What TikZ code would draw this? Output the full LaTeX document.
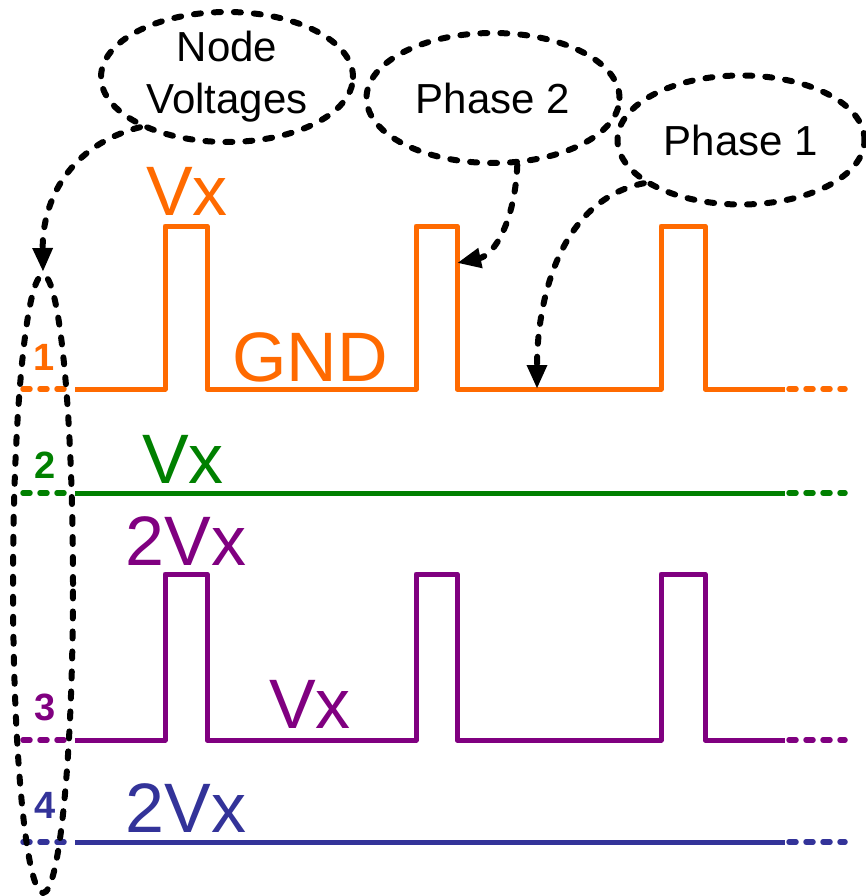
\documentclass[tikz,border=0pt]{standalone}
\usepackage{fontspec}
\setmainfont{Liberation Sans}
\usetikzlibrary{arrows.meta,shapes.geometric}
\definecolor{narancs}{HTML}{FF6A00}
\definecolor{zold}{HTML}{008000}
\definecolor{lila}{HTML}{800080}
\definecolor{kek}{HTML}{333399}
\tikzset{
  jel/.style={line width=5pt,line join=round},
  vege/.style={line width=5.5pt,line cap=round,dash pattern=on 7pt off 10pt},
  buborek/.style={ellipse,draw,line width=6pt,line cap=round,dash pattern=on 7pt off 13pt,
    inner sep=0pt,align=center,font=\fontsize{42}{52}\selectfont},
  nyil/.style={line width=6pt,line cap=round,dash pattern=on 7pt off 13pt,
    -{Triangle[length=24pt,width=19pt]}},
  szint/.style={anchor=base,font=\fontsize{70}{70}\selectfont},
  szam/.style={anchor=base,font=\fontsize{38}{38}\selectfont\bfseries},
}

\begin{document}
\begin{tikzpicture}[x=1pt,y=-1pt]
  \useasboundingbox (0,0) rectangle (865,896);
  % jelalakok
  \draw[jel,narancs] (75,389) foreach \a/\b in {165/207,416/457,661/705}
    { -- (\a,389) -- (\a,226) -- (\b,226) -- (\b,389) } -- (785,389);
  \draw[vege,narancs] (23,389) -- (72,389); \draw[vege,narancs] (789,389) -- (845,389);
  \draw[jel,zold] (75,493) -- (785,493);
  \draw[vege,zold] (23,493) -- (72,493); \draw[vege,zold] (789,493) -- (845,493);
  \draw[jel,lila] (75,740) foreach \a/\b in {165/207,416/457,661/705}
    { -- (\a,740) -- (\a,574) -- (\b,574) -- (\b,740) } -- (785,740);
  \draw[vege,lila] (23,740) -- (72,740); \draw[vege,lila] (789,740) -- (845,740);
  \draw[jel,kek] (75,842) -- (785,842);
  \draw[vege,kek] (23,842) -- (72,842); \draw[vege,kek] (789,842) -- (845,842);
  % feliratok
  \node[szint,narancs] (vx1) at (187,215) {Vx};
  \node[szint,narancs] (gnd) at (310,381) {GND};
  \node[szint,zold] (vx2) at (183,483) {Vx};
  \node[szint,lila] (vx3a) at (186,565) {2Vx};
  \node[szint,lila] (vx3b) at (310,728) {Vx};
  \node[szint,kek] (vx4) at (186,832) {2Vx};
  \node[szam,narancs] (n1) at (44,370) {1};
  \node[szam,zold] (n2) at (45,478) {2};
  \node[szam,lila] (n3) at (45,720) {3};
  \node[szam,kek] (n4) at (45,818) {4};
  % buborekok
  \node[buborek,minimum width=252pt,minimum height=130pt] (nv) at (227,77) {Node\\Voltages};
  \node[buborek,minimum width=253pt,minimum height=130pt] (ph2) at (493,98) {Phase 2};
  \node[buborek,minimum width=247pt,minimum height=129pt] (ph1) at (741,140) {Phase 1};
  \node[buborek,minimum width=60pt,minimum height=618pt] (csom) at (43,584) {};
  \coordinate (el2) at (457,263);
  \coordinate (al1) at (537,389);
  % nyilak
  \draw[nyil] (nv.-150) .. controls (70,145) and (42,200) .. (csom.north);
  \draw[nyil] (ph2.-70) .. controls (515,220) and (495,255) .. (el2);
  \draw[nyil] (ph1.-156) .. controls (560,200) and (537,300) .. (al1);
\end{tikzpicture}
\end{document}
